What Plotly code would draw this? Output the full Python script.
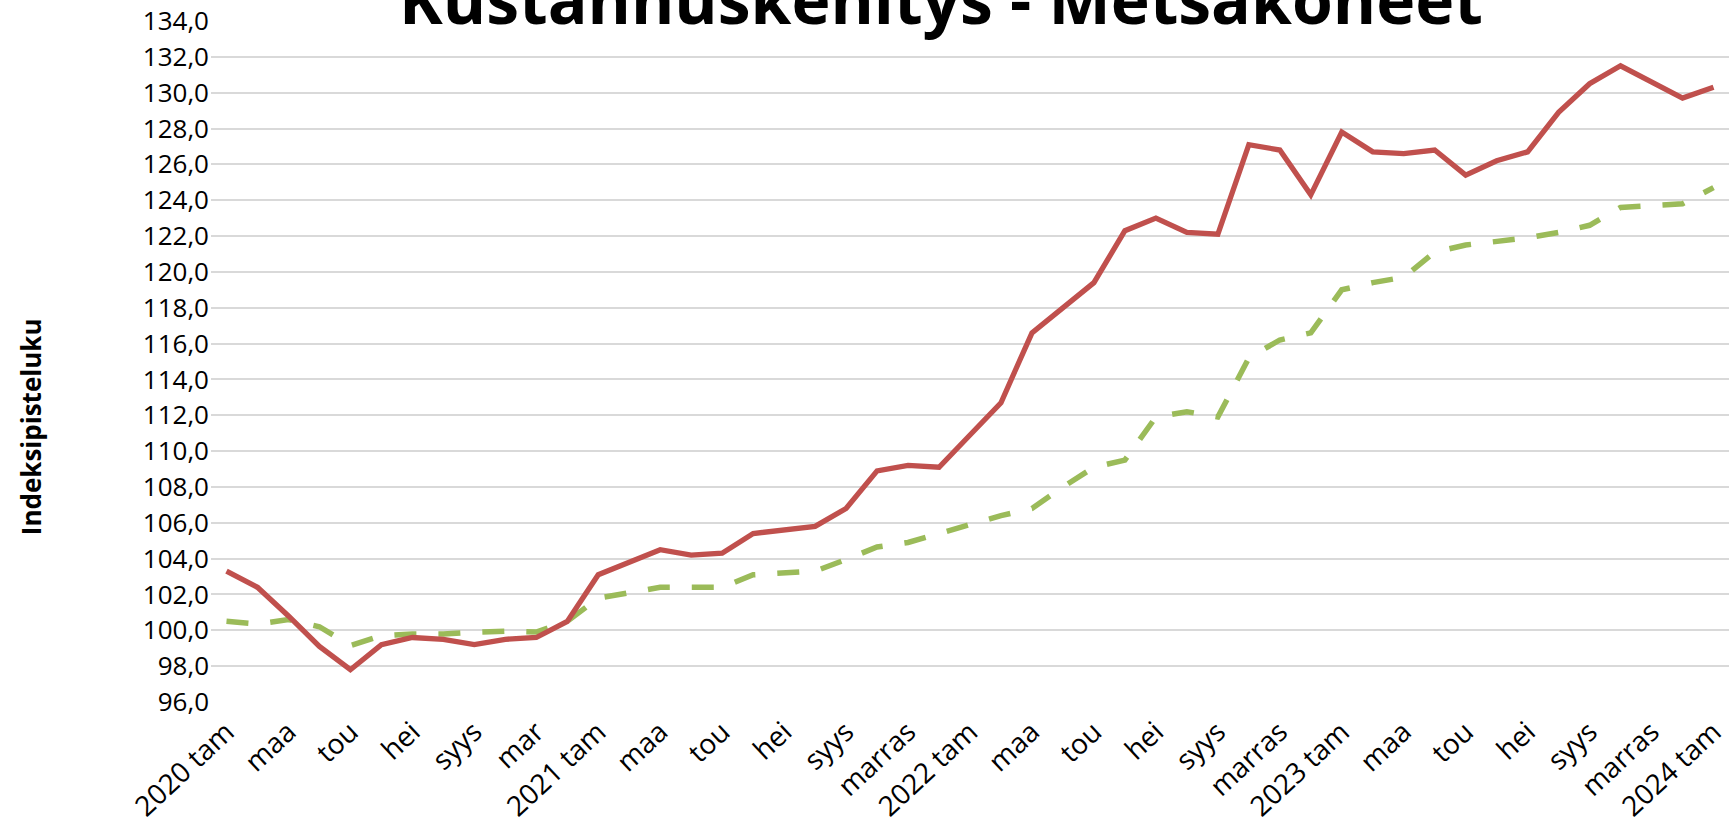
import plotly.graph_objects as go

month_abbr = ["tam", "hel", "maa", "huh", "tou", "kes", "hei", "elo", "syys", "loka", "marras", "joulu"]
years = [2020, 2021, 2022, 2023, 2024]
categories = [f"{y} {m}" for y in years for m in month_abbr][:49]

tick_labels = ["2020 tam", "maa", "tou", "hei", "syys", "mar",
               "2021 tam", "maa", "tou", "hei", "syys", "marras",
               "2022 tam", "maa", "tou", "hei", "syys", "marras",
               "2023 tam", "maa", "tou", "hei", "syys", "marras",
               "2024 tam"]

metsakoneet = [103.3, 102.4, 100.8, 99.1, 97.8, 99.2, 99.6, 99.5, 99.2, 99.5, 99.6, 100.5,
               103.1, 103.8, 104.5, 104.2, 104.3, 105.4, 105.6, 105.8, 106.8, 108.9, 109.2, 109.1,
               110.9, 112.7, 116.6, 118.0, 119.4, 122.3, 123.0, 122.2, 122.1, 127.1, 126.8, 124.3,
               127.8, 126.7, 126.6, 126.8, 125.4, 126.2, 126.7, 128.9, 130.5, 131.5, 130.6, 129.7,
               130.3]

vertailu = [100.5, 100.35, 100.6, 100.2, 99.15, 99.7, 99.8, 99.8, 99.9, 99.95, 99.9, 100.5,
            101.8, 102.1, 102.4, 102.4, 102.4, 103.1, 103.2, 103.3, 103.95, 104.65, 104.9, 105.4,
            105.9, 106.4, 106.8, 108.0, 109.1, 109.5, 111.9, 112.2, 111.9, 115.2, 116.2, 116.6,
            119.0, 119.4, 119.7, 121.1, 121.5, 121.7, 121.9, 122.2, 122.6, 123.6, 123.7, 123.8,
            124.7]

y_ticks = list(range(96, 135, 2))

fig = go.Figure()
fig.add_trace(go.Scatter(x=categories, y=vertailu, mode="lines", name="Vertailu",
                         line=dict(color="#9BBB59", width=5.5, dash="22px,22px")))
fig.add_trace(go.Scatter(x=categories, y=metsakoneet, mode="lines", name="Metsäkoneet",
                         line=dict(color="#C0504D", width=5.3)))

fig.update_layout(
    width=1731, height=828,
    margin=dict(l=211, r=2, t=21, b=126),
    paper_bgcolor="white", plot_bgcolor="white",
    separators=", ",
    showlegend=False,
    font=dict(family="Open Sans", color="black", size=26),
)
fig.update_xaxes(type="category", categoryorder="array", categoryarray=categories,
                 range=[-0.5, len(categories) - 0.5], automargin=False,
                 tickvals=categories[::2], ticktext=tick_labels, tickangle=-43,
                 showgrid=False, showline=False, zeroline=False, ticks="",
                 ticklabelshift=0, ticklabelstandoff=7,
                 tickfont=dict(family="Open Sans", size=28, color="black"))
fig.update_yaxes(range=[96, 134], tickvals=y_ticks, tickformat=".1f", automargin=False,
                 showgrid=True, gridcolor="#D9D9D9", gridwidth=1.5, zeroline=False,
                 showline=False, ticks="", ticklabelstandoff=1,
                 tickfont=dict(family="Open Sans", size=26, color="black"))

fig.add_annotation(text="<b>Kustannuskehitys - Metsäkoneet</b>", xref="paper", yref="paper",
                   x=0.481, y=(702 - 45) / 681, xanchor="center", yanchor="bottom",
                   showarrow=False, font=dict(family="Open Sans", size=66, color="black"))
fig.add_annotation(text="<b>Indeksipisteluku</b>", xref="paper", yref="paper",
                   x=(30 - 211) / 1528, y=(702 - 427) / 681, xanchor="center", yanchor="middle",
                   textangle=-90, showarrow=False,
                   font=dict(family="Open Sans", size=26, color="black"))

fig.write_html("out.html", config={"displayModeBar": False},
               post_script="document.body.style.margin='0';document.body.style.overflow='hidden';")
